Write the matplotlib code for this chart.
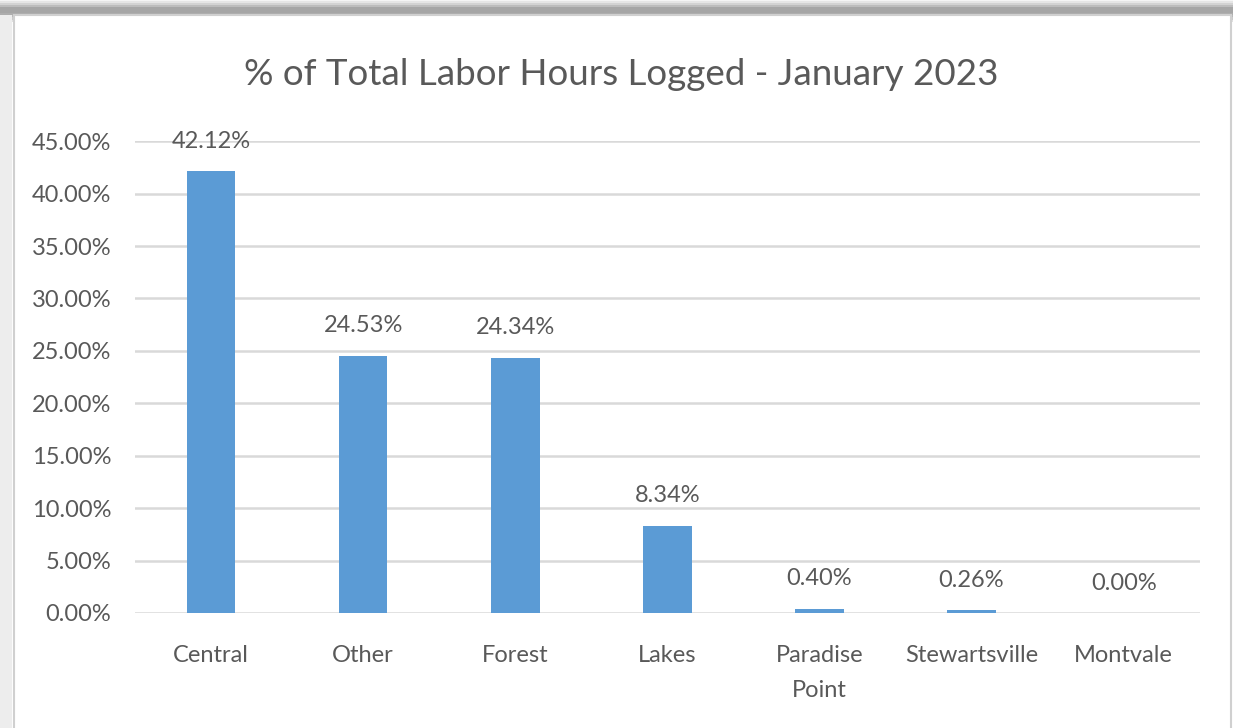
import matplotlib.pyplot as plt
from matplotlib.patches import Rectangle
from matplotlib.ticker import FuncFormatter

categories = ["Central", "Other", "Forest", "Lakes", "Paradise\nPoint", "Stewartsville", "Montvale"]
values = [42.12, 24.53, 24.34, 8.34, 0.40, 0.26, 0.00]
yticks = [0, 5, 10, 15, 20, 25, 30, 35, 40, 45]

text_color = "#595959"
bar_color = "#5B9BD5"
grid_color = "#D9D9D9"

plt.rcParams["font.family"] = ["Lato", "DejaVu Sans"]

fig = plt.figure(figsize=(12.33, 7.28), dpi=100)

# chart frame with a soft shadow on top
for i, a in enumerate([0.04, 0.06, 0.08, 0.10, 0.12]):
    fig.patches.append(Rectangle((0.0, 0.982 - i * 0.003), 1.0, 0.02, transform=fig.transFigure,
                                 facecolor="black", alpha=a, edgecolor="none", zorder=0))
fig.patches.append(Rectangle((0.0, 0.0), 0.01, 0.98, transform=fig.transFigure,
                             facecolor="#EDEDED", edgecolor="none", zorder=0))
fig.patches.append(Rectangle((0.011, -0.01), 0.987, 0.989, transform=fig.transFigure,
                             facecolor="white", edgecolor="#D0D0D0", linewidth=1.5, zorder=1))

ax = fig.add_axes([0.1095, 0.158, 0.8635, 0.648])
ax.set_zorder(2)
ax.patch.set_alpha(0)

x = range(len(categories))
ax.bar(x, values, width=0.32, color=bar_color, zorder=3)

for xi, v in zip(x, values):
    ax.annotate(f"{v:.2f}%", (xi, v), xytext=(0, 14), textcoords="offset points",
                ha="center", va="bottom", fontsize=17, color=text_color)

ax.set_xlim(-0.5, len(categories) - 0.5)
ax.set_ylim(0, 45)
ax.set_yticks(yticks)
ax.yaxis.set_major_formatter(FuncFormatter(lambda v, p: f"{v:.2f}%"))
ax.set_xticks(list(x))
ax.set_xticklabels(categories, linespacing=1.8)
ax.tick_params(axis="both", length=0, labelsize=17, labelcolor=text_color)
ax.tick_params(axis="x", pad=23)
ax.tick_params(axis="y", pad=17)
for lbl in ax.get_xticklabels():
    lbl.set_verticalalignment("top")

ax.grid(axis="y", color=grid_color, linewidth=1.8, zorder=0)
ax.set_axisbelow(True)
for s in ax.spines.values():
    s.set_visible(False)

fig.text(0.504, 0.897, "% of Total Labor Hours Logged - January 2023", ha="center", va="center",
         fontsize=26.5, color=text_color)

fig.savefig("out.png", dpi=100)
